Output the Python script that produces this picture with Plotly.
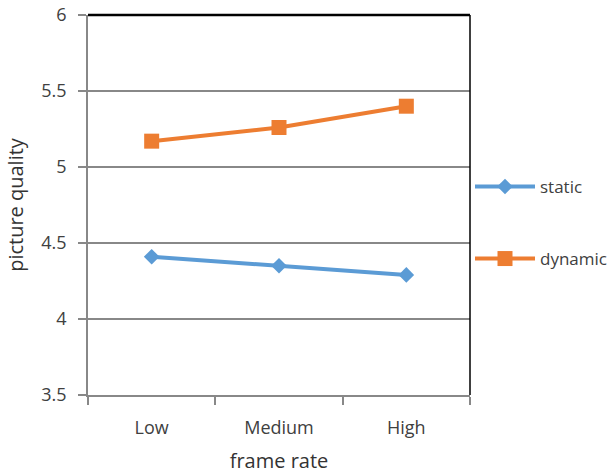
import plotly.graph_objects as go

categories = ["Low", "Medium", "High"]
static_vals = [4.41, 4.35, 4.29]
dynamic_vals = [5.17, 5.26, 5.40]
y_ticks = [3.5, 4, 4.5, 5, 5.5, 6]
y_ticktext = ["3.5", "4", "4.5", "5", "5.5", "6"]

FONT = "Open Sans"
TXT = "#404040"
GRID = "#888888"

fig = go.Figure()
fig.add_trace(go.Scatter(
    x=categories, y=static_vals, name="static", mode="lines+markers",
    line=dict(color="#5B9BD5", width=4),
    marker=dict(symbol="diamond", size=12, color="#5B9BD5"),
    legendgroup="a",
))
fig.add_trace(go.Scatter(
    x=categories, y=dynamic_vals, name="dynamic", mode="lines+markers",
    line=dict(color="#ED7D31", width=4),
    marker=dict(symbol="square", size=15, color="#ED7D31"),
    legendgroup="b",
))

fig.update_layout(
    width=609, height=476,
    margin=dict(l=88, r=139, t=15, b=81, autoexpand=False),
    paper_bgcolor="white", plot_bgcolor="white",
    font=dict(family=FONT, size=17, color=TXT),
    showlegend=True,
    legend=dict(
        x=1.0, y=0.595, xanchor="left", yanchor="top",
        font=dict(family=FONT, size=17, color=TXT),
        tracegroupgap=47, itemwidth=60,
        bgcolor="rgba(0,0,0,0)",
    ),
    xaxis=dict(
        type="category", range=[-0.5, 2.5], automargin=False,
        showgrid=False, showline=True, linecolor=GRID, linewidth=1.5,
        ticks="outside", tickson="boundaries", ticklen=8, tickcolor=GRID, tickwidth=1.5,
        ticklabelstandoff=16,
        tickfont=dict(family=FONT, size=18, color=TXT),
        title=dict(text="frame rate", font=dict(family=FONT, size=20, color="#333333"), standoff=16),
    ),
    yaxis=dict(
        range=[3.5, 6], tickvals=y_ticks, ticktext=y_ticktext, automargin=False,
        showgrid=True, gridcolor=GRID, gridwidth=1.5,
        showline=True, linecolor=GRID, linewidth=1.5,
        ticks="outside", ticklen=8, tickcolor=GRID, tickwidth=1.5,
        ticklabelstandoff=8,
        tickfont=dict(family=FONT, size=18, color=TXT),
        zeroline=False,
        title=dict(text="picture quality", font=dict(family=FONT, size=20, color="#333333"), standoff=12),
    ),
    shapes=[
        dict(type="line", xref="paper", yref="paper", x0=0, x1=1, y0=1, y1=1,
             line=dict(color="black", width=2.5)),
        dict(type="line", xref="paper", yref="paper", x0=1, x1=1, y0=0, y1=1,
             line=dict(color="black", width=1.5)),
    ],
)

fig.write_html("out.html")
